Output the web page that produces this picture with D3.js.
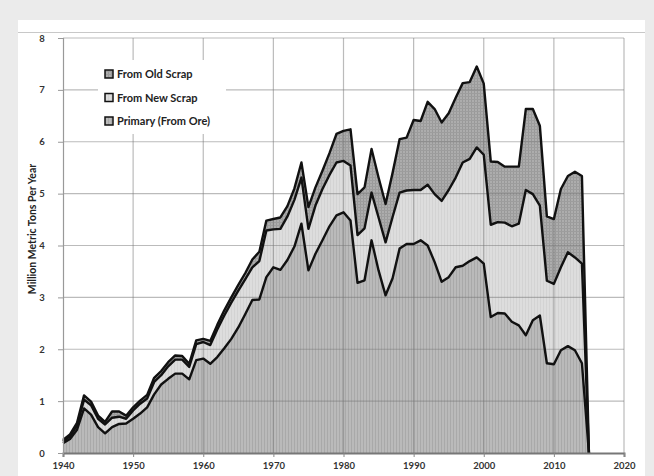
<html>
<head>
<style>
body { margin: 0; background: #ebebeb; font-family: Lato, "Open Sans", sans-serif; }
.grid line { stroke: #787878; stroke-opacity: 0.5; stroke-width: 1.2px; }
.edge { fill: none; stroke: #111; stroke-width: 2.4px; stroke-linejoin: round; }
.tick-label { font-size: 9.5px; font-weight: bold; fill: #333; }
.legend text { font-size: 11px; font-weight: bold; fill: #222; }
</style>
</head>
<body>
<div class="chart"></div>
<script src="https://d3js.org/d3.v7.min.js"></script>
<script>
// years 1940 .. 2015
var years = d3.range(1940, 2016);

// million metric tons per year
var primary = [0.19,0.27,0.45,0.86,0.74,0.50,0.38,0.50,0.56,0.57,
  0.66,0.76,0.88,1.13,1.32,1.43,1.53,1.53,1.42,1.79,
  1.82,1.72,1.85,2.02,2.20,2.42,2.68,2.95,2.96,3.39,
  3.58,3.53,3.72,3.98,4.42,3.52,3.84,4.10,4.37,4.58,
  4.64,4.48,3.28,3.33,4.10,3.52,3.04,3.37,3.94,4.03,
  4.03,4.10,4.00,3.68,3.30,3.39,3.58,3.61,3.70,3.77,
  3.65,2.62,2.70,2.69,2.53,2.46,2.27,2.56,2.65,1.73,
  1.71,1.98,2.06,1.98,1.73,0];
var newScrap = [0.03,0.05,0.08,0.17,0.18,0.16,0.17,0.18,0.14,0.09,
  0.16,0.19,0.17,0.24,0.18,0.24,0.27,0.27,0.24,0.31,
  0.32,0.36,0.53,0.63,0.70,0.71,0.67,0.63,0.74,0.90,
  0.73,0.79,0.84,0.90,0.89,0.80,0.93,0.99,0.99,1.02,
  0.99,1.06,0.92,1.00,0.92,1.02,1.02,1.18,1.08,1.03,
  1.04,0.97,1.17,1.31,1.56,1.68,1.73,1.99,1.97,2.12,
  2.10,1.78,1.75,1.75,1.84,1.96,2.80,2.43,2.12,1.59,
  1.55,1.60,1.81,1.79,1.92,0];
var oldScrap = [0.03,0.04,0.05,0.08,0.07,0.06,0.05,0.12,0.10,0.06,
  0.06,0.06,0.07,0.08,0.08,0.08,0.08,0.07,0.06,0.07,
  0.06,0.08,0.09,0.10,0.10,0.11,0.12,0.15,0.18,0.19,
  0.20,0.22,0.20,0.22,0.29,0.42,0.35,0.35,0.42,0.55,
  0.58,0.70,0.79,0.79,0.84,0.77,0.74,0.85,1.03,1.02,
  1.35,1.33,1.60,1.64,1.51,1.48,1.54,1.53,1.48,1.56,
  1.37,1.22,1.16,1.08,1.15,1.10,1.56,1.64,1.54,1.24,
  1.25,1.51,1.47,1.65,1.69,0];

var legendLabels = ["From Old Scrap", "From New Scrap", "Primary (From Ore)"];
var xTicks = [1940,1950,1960,1970,1980,1990,2000,2010,2020];
var yTicks = [0,1,2,3,4,5,6,7,8];

var W = 654, H = 476;
var margin = {top: 38, right: 30, bottom: 23, left: 63};

var svg = d3.select(".chart").append("svg")
    .attr("width", W)
    .attr("height", H);

// fill textures
var defs = svg.append("defs");
var p1 = defs.append("pattern").attr("id", "texPrimary")
    .attr("width", 3).attr("height", 3).attr("patternUnits", "userSpaceOnUse");
p1.append("rect").attr("width", 3).attr("height", 3).attr("fill", "#bababa");
p1.append("rect").attr("width", 1).attr("height", 3).attr("fill", "#a9a9a9");

var p2 = defs.append("pattern").attr("id", "texNew")
    .attr("width", 3).attr("height", 3).attr("patternUnits", "userSpaceOnUse");
p2.append("rect").attr("width", 3).attr("height", 3).attr("fill", "#dddddd");
p2.append("rect").attr("width", 1).attr("height", 3).attr("fill", "#d3d3d3");

var p3 = defs.append("pattern").attr("id", "texOld")
    .attr("width", 3).attr("height", 3).attr("patternUnits", "userSpaceOnUse");
p3.append("rect").attr("width", 3).attr("height", 3).attr("fill", "#adadad");
p3.append("rect").attr("width", 1).attr("height", 3).attr("fill", "#999");
p3.append("rect").attr("width", 3).attr("height", 1).attr("fill", "#9d9d9d");

// panel
svg.append("rect").attr("x", 18).attr("y", 20).attr("width", 627).attr("height", H - 20).attr("fill", "#fff");
svg.append("line").attr("x1", 18).attr("x2", 645).attr("y1", 32.5).attr("y2", 32.5)
    .attr("stroke", "#c8c8c8").attr("stroke-width", 1);

var x = d3.scaleLinear().domain([1940, 2020]).range([margin.left, W - margin.right]);
var y = d3.scaleLinear().domain([0, 8]).range([H - margin.bottom, margin.top]);

var data = years.map(function(yr, i) {
  return {year: yr, primary: primary[i], newScrap: newScrap[i], oldScrap: oldScrap[i]};
});
var stack = d3.stack().keys(["primary", "newScrap", "oldScrap"])(data);

var area = d3.area()
    .x(function(d) { return x(d.data.year); })
    .y0(function(d) { return y(d[0]); })
    .y1(function(d) { return y(d[1]); });
var fills = {primary: "url(#texPrimary)", newScrap: "url(#texNew)", oldScrap: "url(#texOld)"};

svg.selectAll(".layer")
    .data(stack)
  .enter().append("path")
    .attr("class", "layer")
    .attr("d", area)
    .attr("fill", function(s) { return fills[s.key]; });

// grid on top of fills
var grid = svg.append("g").attr("class", "grid");
grid.selectAll(".h").data(yTicks.slice(1)).enter().append("line")
    .attr("x1", x(1940)).attr("x2", x(2020))
    .attr("y1", function(d) { return y(d); }).attr("y2", function(d) { return y(d); });
grid.selectAll(".v").data(xTicks.slice(1)).enter().append("line")
    .attr("y1", y(0)).attr("y2", y(8))
    .attr("x1", function(d) { return x(d); }).attr("x2", function(d) { return x(d); });

// boundary lines
var line = d3.line()
    .x(function(d) { return x(d.data.year); })
    .y(function(d) { return y(d[1]); });
svg.selectAll(".edge")
    .data(stack)
  .enter().append("path")
    .attr("class", "edge")
    .attr("d", line);

// axes
var xAxis = d3.axisBottom(x).tickValues(xTicks).tickFormat(d3.format("d")).tickSize(4).tickPadding(5);
var yAxis = d3.axisLeft(y).tickValues(yTicks).tickSize(5).tickPadding(12);

var gx = svg.append("g")
    .attr("transform", "translate(0," + y(0) + ")")
    .call(xAxis);
gx.select(".domain").attr("stroke", "#777").attr("stroke-width", 2);
gx.selectAll(".tick line").attr("stroke", "#888");
gx.selectAll("text").attr("class", "tick-label").style("font-family", "Lato");

var gy = svg.append("g")
    .attr("transform", "translate(" + x(1940) + ",0)")
    .call(yAxis);
gy.select(".domain").attr("stroke", "#999").attr("stroke-width", 1.2);
gy.selectAll(".tick line").attr("stroke", "#999");
gy.selectAll("text").attr("class", "tick-label").attr("text-anchor", "middle").attr("x", -21).style("font-family", "Lato");

svg.append("text")
    .attr("transform", "translate(36," + 229 + ") rotate(-90)")
    .attr("text-anchor", "middle")
    .style("font-size", "10.5px")
    .style("font-weight", "bold")
    .style("fill", "#222")
    .text("Million Metric Tons Per Year");

// legend
var legend = svg.append("g").attr("class", "legend");
legend.append("rect").attr("x", 98).attr("y", 60).attr("width", 128).attr("height", 74).attr("fill", "#fff");
var legendFills = ["url(#texOld)", "url(#texNew)", "url(#texPrimary)"];
var item = legend.selectAll(".item")
    .data(legendLabels)
  .enter().append("g")
    .attr("transform", function(d, i) { return "translate(105," + (74 + i * 23.5) + ")"; });
item.append("rect")
    .attr("x", 0).attr("y", -4).attr("width", 8).attr("height", 8)
    .attr("fill", function(d, i) { return legendFills[i]; })
    .attr("stroke", "#111").attr("stroke-width", 1.5);
item.append("text")
    .attr("x", 12).attr("y", 4)
    .text(function(d) { return d; });
</script>
</body>
</html>
